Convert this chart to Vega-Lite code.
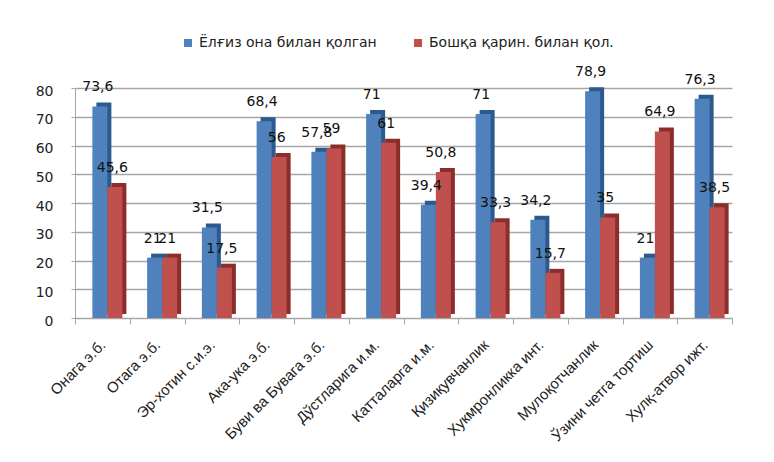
{
  "$schema": "https://vega.github.io/schema/vega-lite/v6.json",
  "width": 657,
  "height": 230,
  "autosize": {"type": "none"},
  "padding": {"left": 75, "top": 88, "right": 42, "bottom": 144},
  "background": "white",
  "config": {
    "locale": {"number": {"decimal": ",", "thousands": " ", "grouping": [3], "currency": ["", ""]}},
    "view": {"stroke": null},
    "font": "Liberation Sans"
  },
  "data": {
    "values": [
      {"cat": "Онага э.б.", "series": "Ёлғиз она билан қолган", "value": 73.6},
      {"cat": "Онага э.б.", "series": "Бошқа қарин. билан қол.", "value": 45.6},
      {"cat": "Отага э.б.", "series": "Ёлғиз она билан қолган", "value": 21},
      {"cat": "Отага э.б.", "series": "Бошқа қарин. билан қол.", "value": 21},
      {"cat": "Эр-хотин с.и.э.", "series": "Ёлғиз она билан қолган", "value": 31.5},
      {"cat": "Эр-хотин с.и.э.", "series": "Бошқа қарин. билан қол.", "value": 17.5},
      {"cat": "Ака-ука э.б.", "series": "Ёлғиз она билан қолган", "value": 68.4},
      {"cat": "Ака-ука э.б.", "series": "Бошқа қарин. билан қол.", "value": 56},
      {"cat": "Буви ва Бувага э.б.", "series": "Ёлғиз она билан қолган", "value": 57.8},
      {"cat": "Буви ва Бувага э.б.", "series": "Бошқа қарин. билан қол.", "value": 59},
      {"cat": "Дўстларига и.м.", "series": "Ёлғиз она билан қолган", "value": 71},
      {"cat": "Дўстларига и.м.", "series": "Бошқа қарин. билан қол.", "value": 61},
      {"cat": "Катталарга и.м.", "series": "Ёлғиз она билан қолган", "value": 39.4},
      {"cat": "Катталарга и.м.", "series": "Бошқа қарин. билан қол.", "value": 50.8},
      {"cat": "Қизиқувчанлик", "series": "Ёлғиз она билан қолган", "value": 71},
      {"cat": "Қизиқувчанлик", "series": "Бошқа қарин. билан қол.", "value": 33.3},
      {"cat": "Хукмронликка инт.", "series": "Ёлғиз она билан қолган", "value": 34.2},
      {"cat": "Хукмронликка инт.", "series": "Бошқа қарин. билан қол.", "value": 15.7},
      {"cat": "Мулоқотчанлик", "series": "Ёлғиз она билан қолган", "value": 78.9},
      {"cat": "Мулоқотчанлик", "series": "Бошқа қарин. билан қол.", "value": 35},
      {"cat": "Ўзини четга тортиш", "series": "Ёлғиз она билан қолган", "value": 21},
      {"cat": "Ўзини четга тортиш", "series": "Бошқа қарин. билан қол.", "value": 64.9},
      {"cat": "Хулқ-атвор ижт.", "series": "Ёлғиз она билан қолган", "value": 76.3},
      {"cat": "Хулқ-атвор ижт.", "series": "Бошқа қарин. билан қол.", "value": 38.5}
    ]
  },
  "encoding": {
    "x": {
      "field": "cat", "type": "nominal", "sort": null,
      "scale": {"paddingInner": 0, "paddingOuter": 0},
      "axis": {
        "title": null, "labelAngle": -45, "labelAlign": "right", "labelBaseline": "middle",
        "labelFontSize": 15, "labelColor": "#222", "labelPadding": 18, "labelLimit": 300,
        "domainColor": "#a6a6a6", "tickColor": "#a6a6a6", "tickBand": "extent", "tickSize": 6
      }
    },
    "y": {
      "field": "value", "type": "quantitative",
      "scale": {"domain": [0, 80]},
      "axis": {
        "title": null, "values": [0, 10, 20, 30, 40, 50, 60, 70, 80],
        "labelFontSize": 14, "labelColor": "#222", "labelPadding": 18, "labelFont": "DejaVu Sans", "labelOffset": 3,
        "domainColor": "#a6a6a6", "tickColor": "#a6a6a6", "tickSize": 4,
        "gridColor": "#a6a6a6", "gridWidth": 1.5
      }
    }
  },
  "layer": [
    {
      "transform": [{"filter": "datum.series === 'Ёлғиз она билан қолган'"}],
      "mark": {"type": "bar", "width": 15, "xOffset": 1.5, "yOffset": -4, "color": "#2C5A8E"}
    },
    {
      "transform": [{"filter": "datum.series === 'Бошқа қарин. билан қол.'"}],
      "mark": {"type": "bar", "width": 15, "xOffset": 16.5, "yOffset": -4, "color": "#8B2E2B"}
    },
    {
      "transform": [{"filter": "datum.series === 'Ёлғиз она билан қолган'"}],
      "mark": {"type": "bar", "width": 15, "xOffset": -2.5},
      "encoding": {
        "color": {
          "field": "series", "type": "nominal",
          "scale": {"domain": ["Ёлғиз она билан қолган", "Бошқа қарин. билан қол."], "range": ["#4F81BD", "#C0504D"]},
          "legend": {
            "title": null, "orient": "none", "direction": "horizontal",
            "legendX": 106, "legendY": -52, "symbolType": "square", "symbolSize": 64,
            "labelFontSize": 14, "labelFont": "DejaVu Sans", "labelColor": "#222", "labelLimit": 400,
            "columnPadding": 34, "symbolStrokeWidth": 0
          }
        }
      }
    },
    {
      "transform": [{"filter": "datum.series === 'Бошқа қарин. билан қол.'"}],
      "mark": {"type": "bar", "width": 15, "xOffset": 12.5},
      "encoding": {
        "color": {"field": "series", "type": "nominal"}
      }
    },
    {
      "transform": [{"filter": "datum.series === 'Ёлғиз она билан қолган'"}],
      "mark": {"type": "text", "baseline": "bottom", "dy": -12, "xOffset": -4.5, "fontSize": 14, "font": "DejaVu Sans", "color": "#111"},
      "encoding": {"text": {"field": "value", "type": "quantitative", "format": ".1~f"}}
    },
    {
      "transform": [{"filter": "datum.series === 'Бошқа қарин. билан қол.'"}],
      "mark": {"type": "text", "baseline": "bottom", "dy": -12, "xOffset": 10, "fontSize": 14, "font": "DejaVu Sans", "color": "#111"},
      "encoding": {"text": {"field": "value", "type": "quantitative", "format": ".1~f"}}
    }
  ]
}
